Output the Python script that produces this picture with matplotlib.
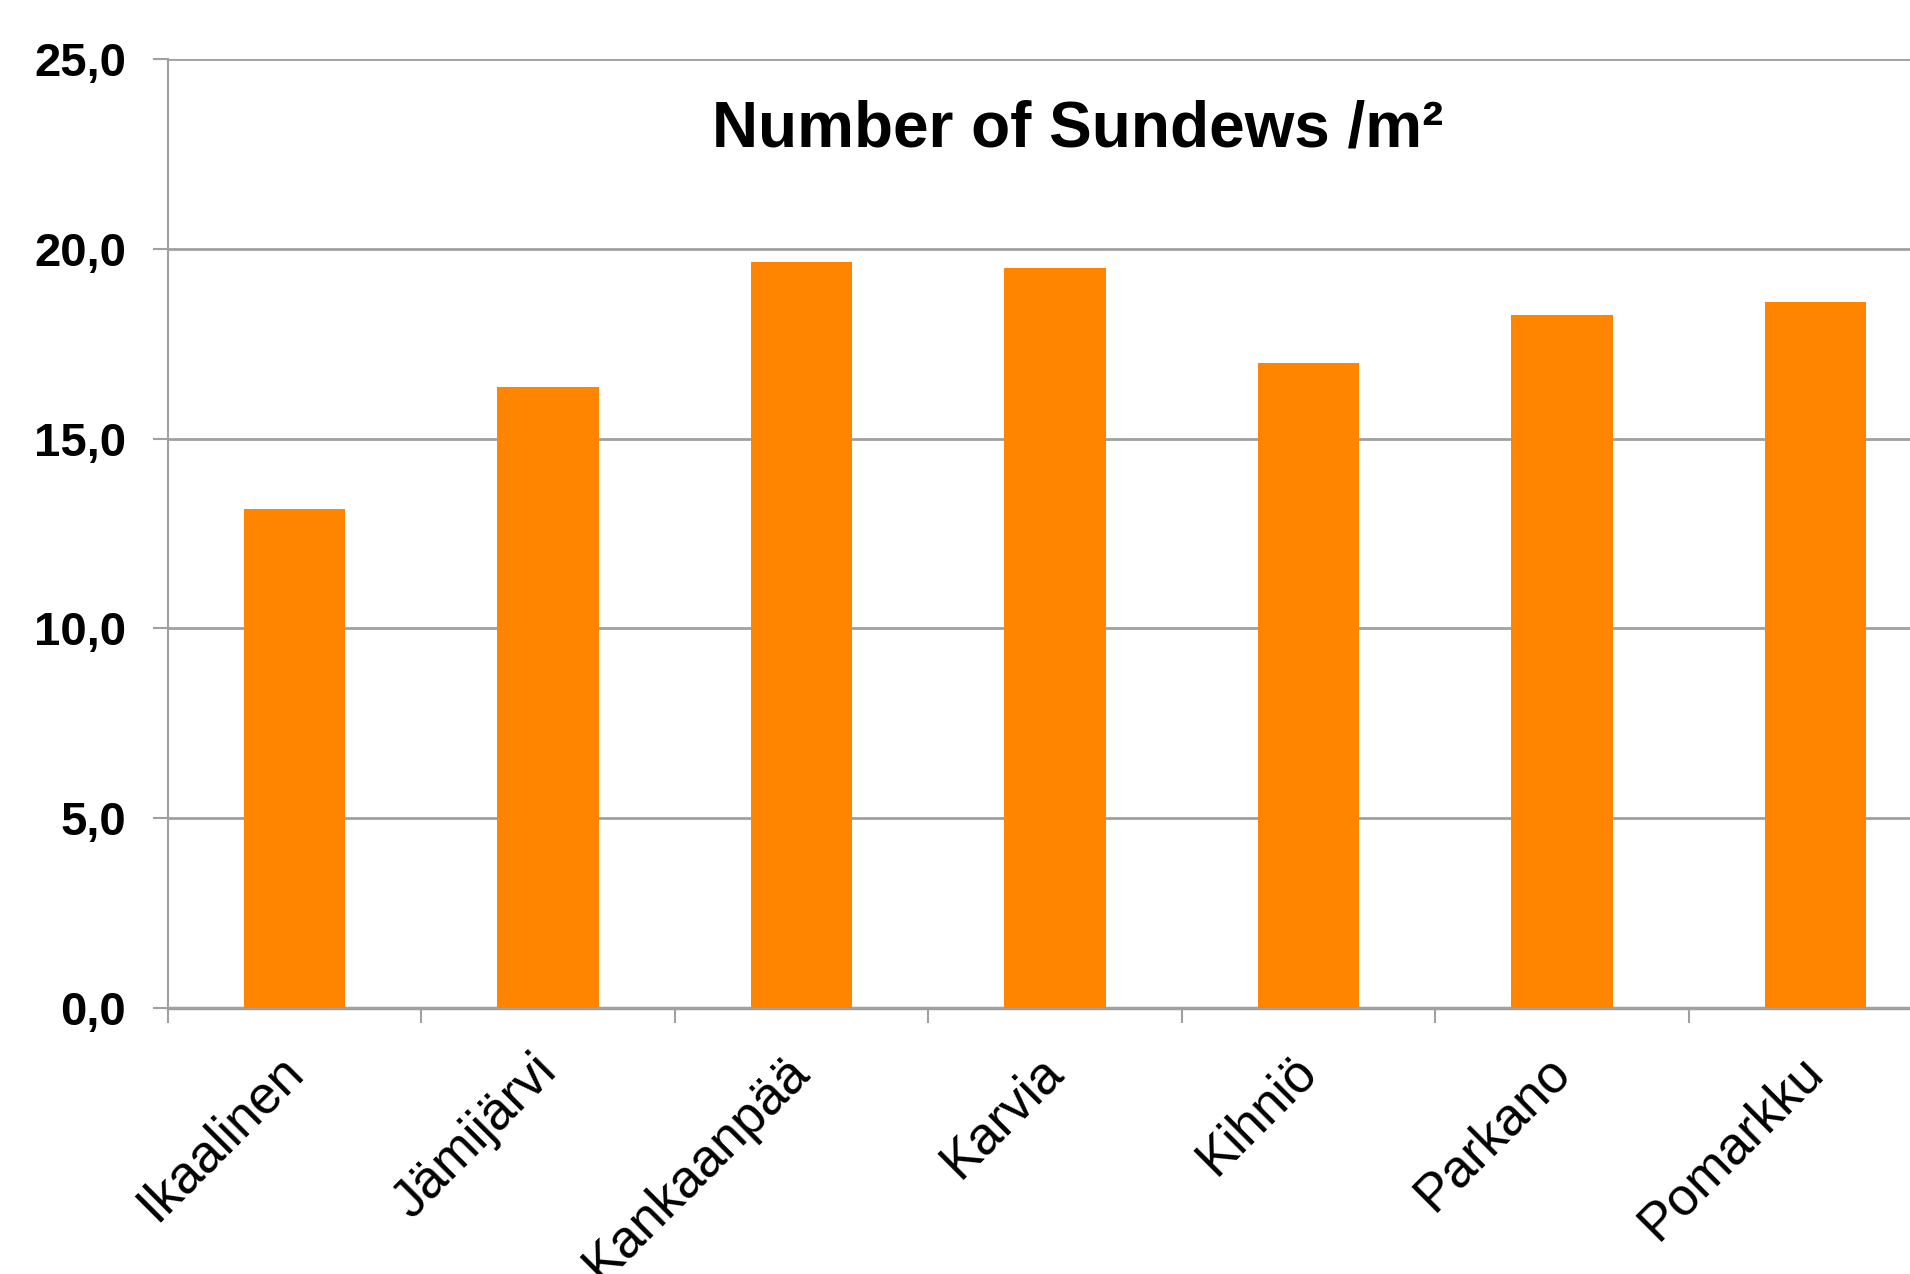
import numpy as np
import matplotlib.pyplot as plt

# data
towns = ['Ikaalinen', 'Jämijärvi', 'Kankaanpää', 'Karvia', 'Kihniö', 'Parkano', 'Pomarkku']
sundews = [13.15, 16.35, 19.65, 19.5, 17.0, 18.25, 18.6]
yticks = [0, 5, 10, 15, 20, 25]

plt.rcParams['font.family'] = ['Liberation Sans', 'DejaVu Sans']

fig = plt.figure(figsize=(19.1, 12.74), dpi=100)
# axes runs past the right edge, like the cropped original
ax = fig.add_axes([168/1910, 266/1274, 1774/1910, 949/1274])

x = np.arange(len(towns))
ax.bar(x, sundews, width=0.4, color='#FF8400', zorder=3)

ax.set_xlim(-0.5, len(towns) - 0.5)
ax.set_ylim(0, 25)

gc = '#a0a0a0'
ax.set_yticks(yticks)
ax.set_yticklabels([('%.1f' % v).replace('.', ',') for v in yticks],
                   fontsize=34, fontweight='bold')
ax.yaxis.grid(True, color=gc, lw=2, zorder=0)
ax.tick_params(axis='y', direction='out', length=11, width=1.5, color=gc, pad=19)

ax.set_xticks(x)
ax.set_xticklabels(towns, fontsize=38, rotation=45, ha='right', va='center',
                   rotation_mode='anchor')
ax.tick_params(axis='x', which='major', length=0, pad=40)
ax.set_xticks(np.arange(-0.5, len(towns), 1), minor=True)
ax.tick_params(axis='x', which='minor', direction='out', length=11, width=1.5, color=gc)

for s in ['top', 'right']:
    ax.spines[s].set_visible(False)
ax.spines['left'].set_color(gc)
ax.spines['left'].set_linewidth(1.5)
ax.spines['bottom'].set_color(gc)
ax.spines['bottom'].set_linewidth(2.5)

ax.text(0.513, 0.926, 'Number of Sundews /m²', transform=ax.transAxes,
        ha='center', va='center', fontsize=46, fontweight='bold')

plt.savefig('out.png', dpi=100)
